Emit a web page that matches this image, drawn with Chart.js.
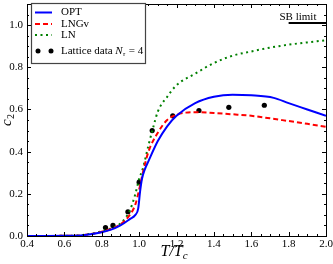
<!DOCTYPE html>
<html>
<head>
<meta charset="utf-8">
<script src="https://cdn.jsdelivr.net/npm/chart.js@4"></script>
<style>
  html,body{margin:0;padding:0;background:#fff;}
  #wrap{width:333px;height:264px;}
</style>
</head>
<body>
<div id="wrap"><canvas id="c"></canvas></div>
<script>
// curve samples, T/Tc
const optT  = [0.4,0.6,0.7,0.8,0.85,0.9,0.95,0.98,0.995,1.005,1.015,1.03,1.05,1.1,1.15,1.2,1.3,1.4,1.5,1.6,1.72,1.8,1.9,2.0];
const optC2 = [0,0.001,0.004,0.018,0.03,0.05,0.08,0.1,0.13,0.21,0.27,0.315,0.355,0.45,0.52,0.57,0.63,0.66,0.67,0.667,0.655,0.63,0.60,0.57];

const lngT  = [0.4,0.6,0.7,0.8,0.85,0.9,0.95,0.98,1.0,1.02,1.05,1.1,1.15,1.2,1.25,1.3,1.4,1.5,1.6,1.7,1.8,1.9,2.0];
const lngC2 = [0,0.001,0.004,0.02,0.033,0.055,0.1,0.15,0.22,0.3,0.4,0.49,0.55,0.575,0.585,0.587,0.583,0.577,0.57,0.558,0.545,0.532,0.518];

const lnT   = [0.4,0.6,0.7,0.8,0.85,0.9,0.95,0.98,1.0,1.02,1.05,1.08,1.1,1.15,1.2,1.3,1.4,1.5,1.6,1.7,1.8,1.9,2.0];
const lnC2  = [0,0.001,0.005,0.022,0.037,0.06,0.12,0.2,0.27,0.32,0.43,0.53,0.59,0.66,0.715,0.77,0.82,0.855,0.875,0.893,0.907,0.918,0.928];

// lattice data N_tau = 4
const latT  = [0.82,0.86,0.94,1.0,1.07,1.18,1.32,1.48,1.67];
const latC2 = [0.04,0.05,0.115,0.255,0.5,0.57,0.595,0.61,0.62];

const sbT = [1.8, 2.0];
const sbC2 = [1.01, 1.01];

const xTicks = [0.4,0.6,0.8,1.0,1.2,1.4,1.6,1.8,2.0];
const yTicks = [0.0,0.2,0.4,0.6,0.8,1.0];

const serif = '"Liberation Serif", "DejaVu Serif", serif';
const pts = (xs, ys) => xs.map((x,i)=>({x, y: ys[i]}));

// inward ticks on all four sides, frame, titles, legend
const frame = {
  id: 'frame',
  afterDraw(chart){
    const {ctx, chartArea:a, scales:{x, y}} = chart;
    ctx.save();
    ctx.strokeStyle = '#000'; ctx.lineWidth = 1;
    ctx.strokeRect(a.left+0.5, a.top+0.5, a.right-a.left, a.bottom-a.top);
    ctx.beginPath();
    for(let v=0.4; v<=2.0001; v+=0.05){
      const major = Math.abs(v*5 - Math.round(v*5)) < 1e-6;
      const L = major ? 4 : 2;
      const px = Math.round(x.getPixelForValue(v))+0.5;
      ctx.moveTo(px, a.bottom); ctx.lineTo(px, a.bottom-L);
      ctx.moveTo(px, a.top); ctx.lineTo(px, a.top+L);
    }
    for(let v=0; v<=1.1001; v+=0.05){
      const major = Math.abs(v*5 - Math.round(v*5)) < 1e-6;
      const L = major ? 4 : 2;
      const py = Math.round(y.getPixelForValue(v))+0.5;
      ctx.moveTo(a.left, py); ctx.lineTo(a.left+L, py);
      ctx.moveTo(a.right, py); ctx.lineTo(a.right-L, py);
    }
    ctx.stroke();

    // axis titles
    ctx.fillStyle = '#000';
    ctx.font = 'italic 16px ' + serif;
    ctx.textBaseline = 'alphabetic';
    const cx = (a.left + a.right)/2;
    let tx = cx - 16;
    ctx.fillText('T/T', tx, 256);
    const w = ctx.measureText('T/T').width;
    ctx.font = 'italic 11px ' + serif;
    ctx.fillText('c', tx + w, 259);

    ctx.save();
    ctx.translate(11, (a.top + a.bottom)/2);
    ctx.rotate(-Math.PI/2);
    ctx.font = 'italic 15px ' + serif;
    ctx.fillText('c', -6, 0);
    ctx.font = '10px ' + serif;
    ctx.fillText('2', 1, 3);
    ctx.restore();

    // SB limit label
    ctx.font = '11px ' + serif;
    ctx.textAlign = 'center';
    ctx.fillText('SB limit', x.getPixelForValue(1.85), y.getPixelForValue(1.01) - 3);
    ctx.textAlign = 'left';

    // legend
    const L0 = 31, T0 = 3;
    ctx.fillStyle = '#fff';
    ctx.fillRect(L0, T0, 114, 60);
    ctx.strokeStyle = '#444'; ctx.lineWidth = 1.2;
    ctx.strokeRect(L0+0.5, T0+0.5, 114, 60);
    const rows = [[12.5,'OPT'],[24,'LNGv'],[35,'LN'],[51,'Lattice data']];
    chart.data.datasets.slice(0,4).forEach((ds, i)=>{
      const ry = rows[i][0];
      ctx.strokeStyle = ds.borderColor; ctx.lineWidth = 2;
      if(i < 3){
        ctx.setLineDash(ds.borderDash || []);
        ctx.beginPath(); ctx.moveTo(35, ry); ctx.lineTo(52, ry); ctx.stroke();
        ctx.setLineDash([]);
      } else {
        ctx.fillStyle = '#000';
        [38, 51].forEach(dx=>{ ctx.beginPath(); ctx.arc(dx, ry, 2.5, 0, Math.PI*2); ctx.fill(); });
      }
      ctx.fillStyle = '#000';
      ctx.font = '11px ' + serif;
      ctx.textBaseline = 'middle';
      ctx.fillText(rows[i][1], 61, ry);
      if(i === 3){
        const tw = ctx.measureText('Lattice data ').width;
        ctx.font = 'italic 11px ' + serif;
        ctx.fillText('N', 61+tw, ry);
        const nw = ctx.measureText('N').width;
        ctx.font = 'italic 7px ' + serif;
        ctx.fillText('τ', 61+tw+nw, ry+3);
        ctx.font = '11px ' + serif;
        ctx.fillText('= 4', 61+tw+nw+6, ry);
      }
    });
    ctx.restore();
  }
};

new Chart(document.getElementById('c'), {
  type: 'scatter',
  data: {
    datasets: [
      { label:'OPT', data: pts(optT, optC2), showLine:true, borderColor:'#0000ff', borderWidth:2, pointRadius:0, cubicInterpolationMode:'monotone' },
      { label:'LNGv', data: pts(lngT, lngC2), showLine:true, borderColor:'#ff0000', borderWidth:2, borderDash:[5,3], pointRadius:0, cubicInterpolationMode:'monotone' },
      { label:'LN', data: pts(lnT, lnC2), showLine:true, borderColor:'#008000', borderWidth:2, borderDash:[2,3.5], pointRadius:0, cubicInterpolationMode:'monotone' },
      { label:'Lattice', data: pts(latT, latC2), showLine:false, borderColor:'#000', backgroundColor:'#000', pointRadius:2.6, pointBorderWidth:0 },
      { label:'SB', data: pts(sbT, sbC2), showLine:true, borderColor:'#000', borderWidth:2, pointRadius:0 }
    ]
  },
  options: {
    responsive: true,
    maintainAspectRatio: false,
    animation: false,
    layout: { padding: { top: 1, right: 7, left: 0, bottom: 0 } },
    plugins: { legend:{display:false}, tooltip:{enabled:false} },
    scales: {
      x: {
        type:'linear', min:0.4, max:2.0,
        grid:{ display:false, drawTicks:false },
        border:{ display:false },
        afterBuildTicks: s => { s.ticks = xTicks.map(v=>({value:v})); },
        afterFit: s => { s.height = 28; s.paddingLeft = 0; s.paddingRight = 0; },
        ticks:{ color:'#000', padding:2, maxRotation:0, font:{ family:serif, size:11 }, callback: v => v.toFixed(1) }
      },
      y: {
        min:0, max:1.1,
        grid:{ display:false, drawTicks:false },
        border:{ display:false },
        afterBuildTicks: s => { s.ticks = yTicks.map(v=>({value:v})); },
        afterFit: s => { s.width = 27; s.paddingTop = 0; s.paddingBottom = 0; },
        ticks:{ color:'#000', padding:4, font:{ family:serif, size:11 }, callback: v => v.toFixed(1) }
      }
    }
  },
  plugins: [frame]
});
</script>
</body>
</html>
